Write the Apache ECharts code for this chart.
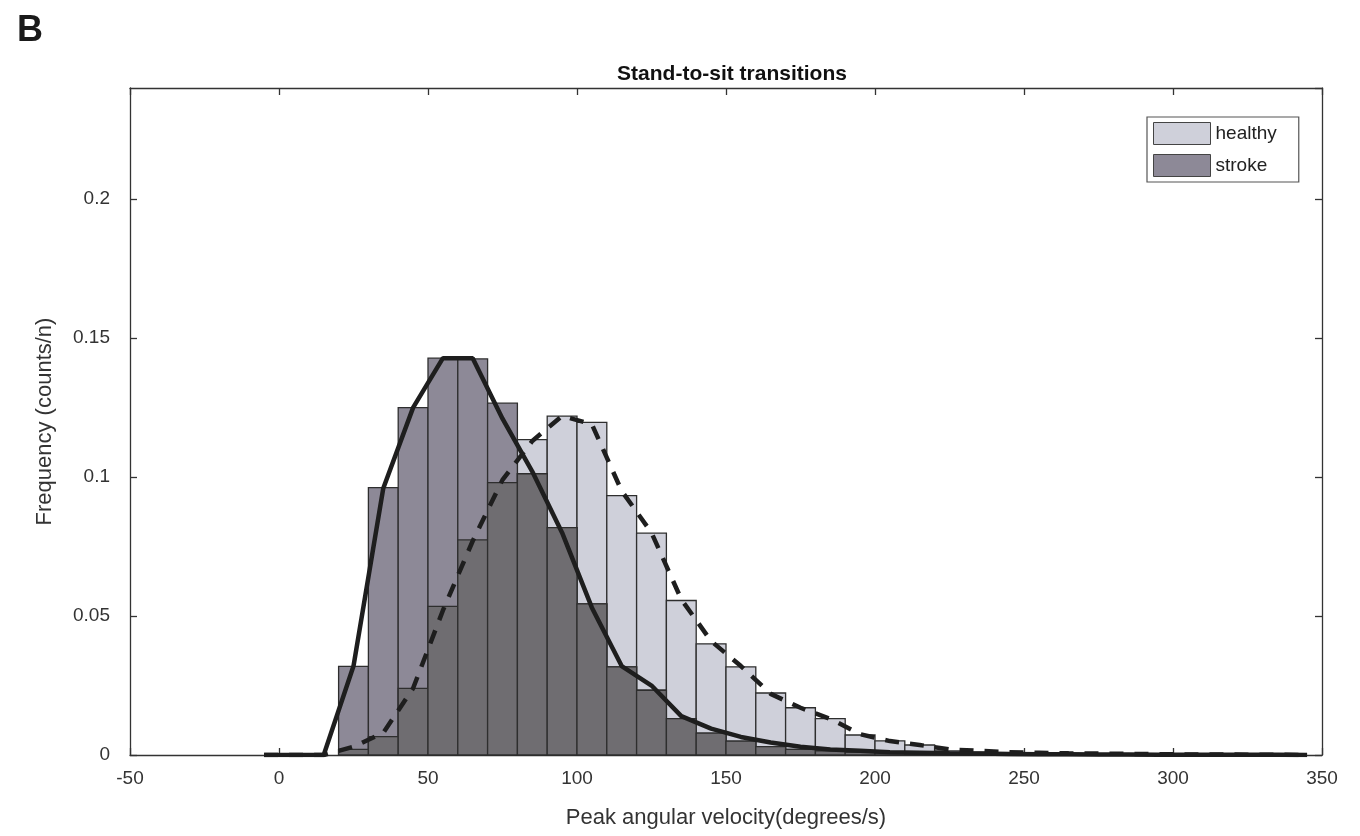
<!DOCTYPE html>
<html>
<head>
<meta charset="utf-8">
<script src="https://cdn.jsdelivr.net/npm/echarts@6/dist/echarts.min.js"></script>
<style>
html,body{margin:0;padding:0;background:#fff;}
#chart{width:1360px;height:836px;}
</style>
</head>
<body>
<div id="chart"></div>
<script>
// histogram bins (left edge, width 10)
var binStart = [20,30,40,50,60,70,80,90,100,110,120,130,140,150,160,170,180,190,200,210,220,230,240,250,260,270,280,290,300,310,320,330];
var healthyFreq = [0.002,0.0066,0.024,0.0535,0.0774,0.098,0.1135,0.1219,0.1197,0.0933,0.0798,0.0556,0.0400,0.0317,0.0223,0.0170,0.0131,0.0072,0.0051,0.0036,0.0015,0.001,0.0007,0.0005,0.0004,0.0003,0.0002,0.0002,0.0001,0.0001,0.0001,0.0001];
var strokeFreq  = [0.0319,0.0962,0.125,0.1428,0.1425,0.1266,0.1012,0.0818,0.0544,0.0317,0.0233,0.0131,0.0079,0.005,0.003,0.002,0.0015,0.001,0.0008,0.0005,0.0004,0.0003,0.0002,0.0002,0.0001,0.0001,0.0001,0.0001,0.0001,0.0001,0.0001,0.0001];
var binWidth = 10;

// fitted curves evaluated at bin centres
var curveX = [-5,5,15,25,35,45,55,65,75,85,95,105,115,125,135,145,155,165,175,185,195,205,215,225,235,245,255,265,275,285,295,305,315,325,335,345];
var strokeCurve  = [0,0,0,0.032,0.096,0.125,0.1428,0.1428,0.121,0.102,0.080,0.053,0.032,0.025,0.014,0.0095,0.0065,0.0045,0.003,0.002,0.0015,0.001,0.0008,0.0006,0.0005,0.0004,0.0003,0.0003,0.0002,0.0002,0.0001,0.0001,0.0001,0.0001,0.0001,0];
var healthyCurve = [0,0,0,0.003,0.008,0.024,0.052,0.077,0.099,0.113,0.122,0.119,0.095,0.080,0.056,0.041,0.032,0.022,0.017,0.013,0.0075,0.005,0.0036,0.002,0.0015,0.001,0.0008,0.0006,0.0005,0.0004,0.0003,0.0002,0.0002,0.0001,0.0001,0];

var xTicks = [-50,0,50,100,150,200,250,300,350];
var yTicks = [0,0.05,0.1,0.15,0.2];

var FONT = '"Liberation Sans", Arial, sans-serif';
var cHealthy = '#cfd0da';
var cStroke = '#8d8997';
var cOverlap = '#6f6d71';
var cEdge = '#2e2e2e';

function barData(vals){
  return binStart.map(function(s,i){ return [s, s+binWidth, vals[i]]; });
}
var overlapFreq = healthyFreq.map(function(h,i){ return Math.min(h, strokeFreq[i]); });

function makeRender(color){
  return function(params, api){
    var lo = api.value(0), hi = api.value(1), v = api.value(2);
    var p0 = api.coord([lo, v]);
    var p1 = api.coord([hi, 0]);
    return {
      type: 'rect',
      shape: {x: p0[0], y: p0[1], width: p1[0]-p0[0], height: p1[1]-p0[1]},
      style: {fill: color, stroke: cEdge, lineWidth: 1.3}
    };
  };
}

var chart = echarts.init(document.getElementById('chart'), null, {renderer:'canvas'});
function axisBase(){
  return {
    type: 'value',
    axisLine: {show: true, onZero: false, lineStyle: {color: '#333', width: 1.3}},
    axisTick: {show: true, inside: true, length: 7, lineStyle: {color: '#333', width: 1.3}},
    splitLine: {show: false}
  };
}
chart.setOption({
  animation: false,
  backgroundColor: '#fff',
  title: [{
    text: 'Stand-to-sit transitions',
    left: 727, top: 59, textAlign: 'center',
    textStyle: {fontFamily: FONT, fontSize: 21, fontWeight: 'bold', color: '#111'}
  },{
    text: 'B', left: 12, top: 8,
    textStyle: {fontFamily: FONT, fontSize: 36, fontWeight: 'bold', color: '#1a1a1a'}
  }],
  legend: {
    orient: 'vertical', left: 1147, top: 117,
    data: ['healthy','stroke'],
    icon: 'rect', itemWidth: 57, itemHeight: 22, itemGap: 9,
    backgroundColor: '#fff', borderColor: '#555', borderWidth: 1.2,
    padding: [5, 22, 5, 6],
    itemStyle: {borderColor: '#444', borderWidth: 1},
    textStyle: {fontFamily: FONT, fontSize: 19, color: '#222'}
  },
  grid: {left: 130, right: 38, top: 88, bottom: 81},
  xAxis: [
    Object.assign(axisBase(), {
      min: xTicks[0], max: xTicks[xTicks.length-1], interval: 50, position: 'bottom',
      axisLabel: {fontFamily: FONT, fontSize: 19, color: '#333', margin: 14},
      name: 'Peak angular velocity(degrees/s)', nameLocation: 'middle', nameGap: 52,
      nameTextStyle: {fontFamily: FONT, fontSize: 22, color: '#333'}
    }),
    Object.assign(axisBase(), {
      min: xTicks[0], max: xTicks[xTicks.length-1], interval: 50, position: 'top',
      axisLabel: {show: false}
    })
  ],
  yAxis: [
    Object.assign(axisBase(), {
      min: 0, max: 0.24, interval: 0.05, position: 'left',
      axisLabel: {fontFamily: FONT, fontSize: 19, color: '#333', margin: 20, showMaxLabel: false,
        formatter: function(v){ var r = Math.round(v*100)/100; return yTicks.indexOf(r) >= 0 ? String(r) : ''; }},
      name: 'Frequency (counts/n)', nameLocation: 'middle', nameGap: 74,
      nameTextStyle: {fontFamily: FONT, fontSize: 22, color: '#333'}
    }),
    Object.assign(axisBase(), {
      min: 0, max: 0.24, interval: 0.05, position: 'right',
      axisLabel: {show: false}
    })
  ],
  series: [
    {name: 'healthy', type: 'custom', renderItem: makeRender(cHealthy), data: barData(healthyFreq),
     encode: {x: [0,1], y: 2}, itemStyle: {color: cHealthy}, z: 2},
    {name: 'stroke', type: 'custom', renderItem: makeRender(cStroke), data: barData(strokeFreq),
     encode: {x: [0,1], y: 2}, itemStyle: {color: cStroke}, z: 3},
    {name: 'overlap', type: 'custom', renderItem: makeRender(cOverlap), data: barData(overlapFreq),
     encode: {x: [0,1], y: 2}, itemStyle: {color: cOverlap}, z: 4},
    {name: 'healthy fit', type: 'line', data: curveX.map(function(x,i){return [x, healthyCurve[i]];}),
     symbol: 'none', z: 6, lineStyle: {color: '#1e1e1e', width: 4.5, type: [14, 11]}},
    {name: 'stroke fit', type: 'line', data: curveX.map(function(x,i){return [x, strokeCurve[i]];}),
     symbol: 'none', z: 7, lineStyle: {color: '#1e1e1e', width: 4.5}}
  ]
});
</script>
</body>
</html>
